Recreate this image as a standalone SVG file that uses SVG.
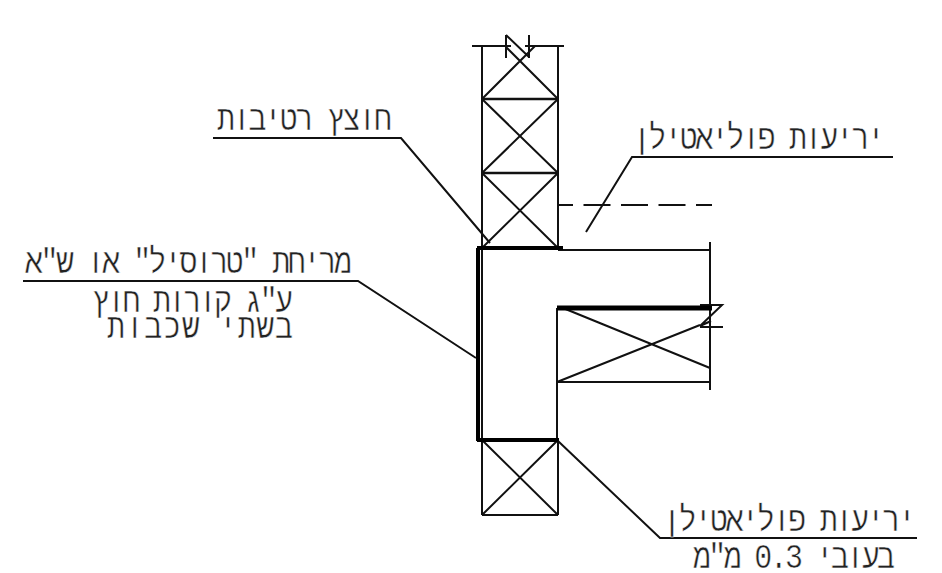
<svg xmlns="http://www.w3.org/2000/svg" width="942" height="573" viewBox="0 0 942 573">
<style>
.l{fill:none;stroke:#111;stroke-width:2}
.m{fill:none;stroke:#111;stroke-width:2.4}
.t{fill:none;stroke:#000;stroke-width:4}
.x{fill:none;stroke:#000;stroke-width:5}
.d{stroke-dasharray:27 10.5;stroke-dashoffset:12}
text{font-family:"Liberation Mono","DejaVu Sans Mono",monospace;font-size:30px;fill:#222;stroke:#fff;stroke-width:.45;paint-order:normal;direction:rtl}
</style>
<rect width="942" height="573" fill="#fff"/>
<g id="wall-upper">
<path class="l" d="M482 46V515M558 46V248M472 46H511M525 46H564M506 35V58M529 35V58M506 35L529 57M506 47L558 99M482 99L535 46"/>
<path class="m" d="M482 99H558M482 173H558"/>
<path class="l" d="M482 99L558 173M558 99L482 173M482 173L558 248M558 173L482 248"/>
</g>
<g id="wall-lower">
<path class="l" d="M558 440V515M482 515H558M482 440L558 515M558 440L482 515"/>
</g>
<g id="concrete-beam">
<path class="l" d="M558 250H710M710 242V390M557 308V440M557 382H710M563 308L710 368M557 382L700 325M700 305H722L700 326L711 321M700 327H723"/>
<path class="l d" d="M558 205H712"/>
</g>
<g id="membranes">
<path class="t" d="M478 248V441"/>
<path class="t" d="M477 248H563M477 440H559"/>
<path class="x" d="M557 308H712"/>
</g>
<g id="connectors">
<path class="l" d="M213 138H401L490 243"/>
<path class="l" d="M893 157H632L586 232"/>
<path class="l" d="M23 281H358L476 358"/>
<path class="l" d="M558 441L660 538H917"/>
</g>
<g id="label-1"><text transform="translate(392 130) scale(1 1.15)" textLength="175" lengthAdjust="spacing">חוצץ רטיבות</text></g>
<g id="label-2"><text transform="translate(885 149) scale(1 1.15)" textLength="252" lengthAdjust="spacing">יריעות פוליאטילן</text></g>
<g id="label-3"><text transform="translate(352 273) scale(1 1.15)" textLength="327" lengthAdjust="spacing">מריחת "טרוסיל" או ש"א</text>
<text transform="translate(293 312) scale(1 1.15)" textLength="201" lengthAdjust="spacing">ע"ג קורות חוץ</text>
<text transform="translate(293 338) scale(1 1.15)" textLength="186" lengthAdjust="spacing">בשתי שכבות</text></g>
<g id="label-4"><text transform="translate(916 531) scale(1 1.15)" textLength="253" lengthAdjust="spacing">יריעות פוליאטילן</text>
<text transform="translate(895 568) scale(1 1.15)" textLength="202" lengthAdjust="spacing">בעובי 0.3 מ"מ</text></g>
</svg>
